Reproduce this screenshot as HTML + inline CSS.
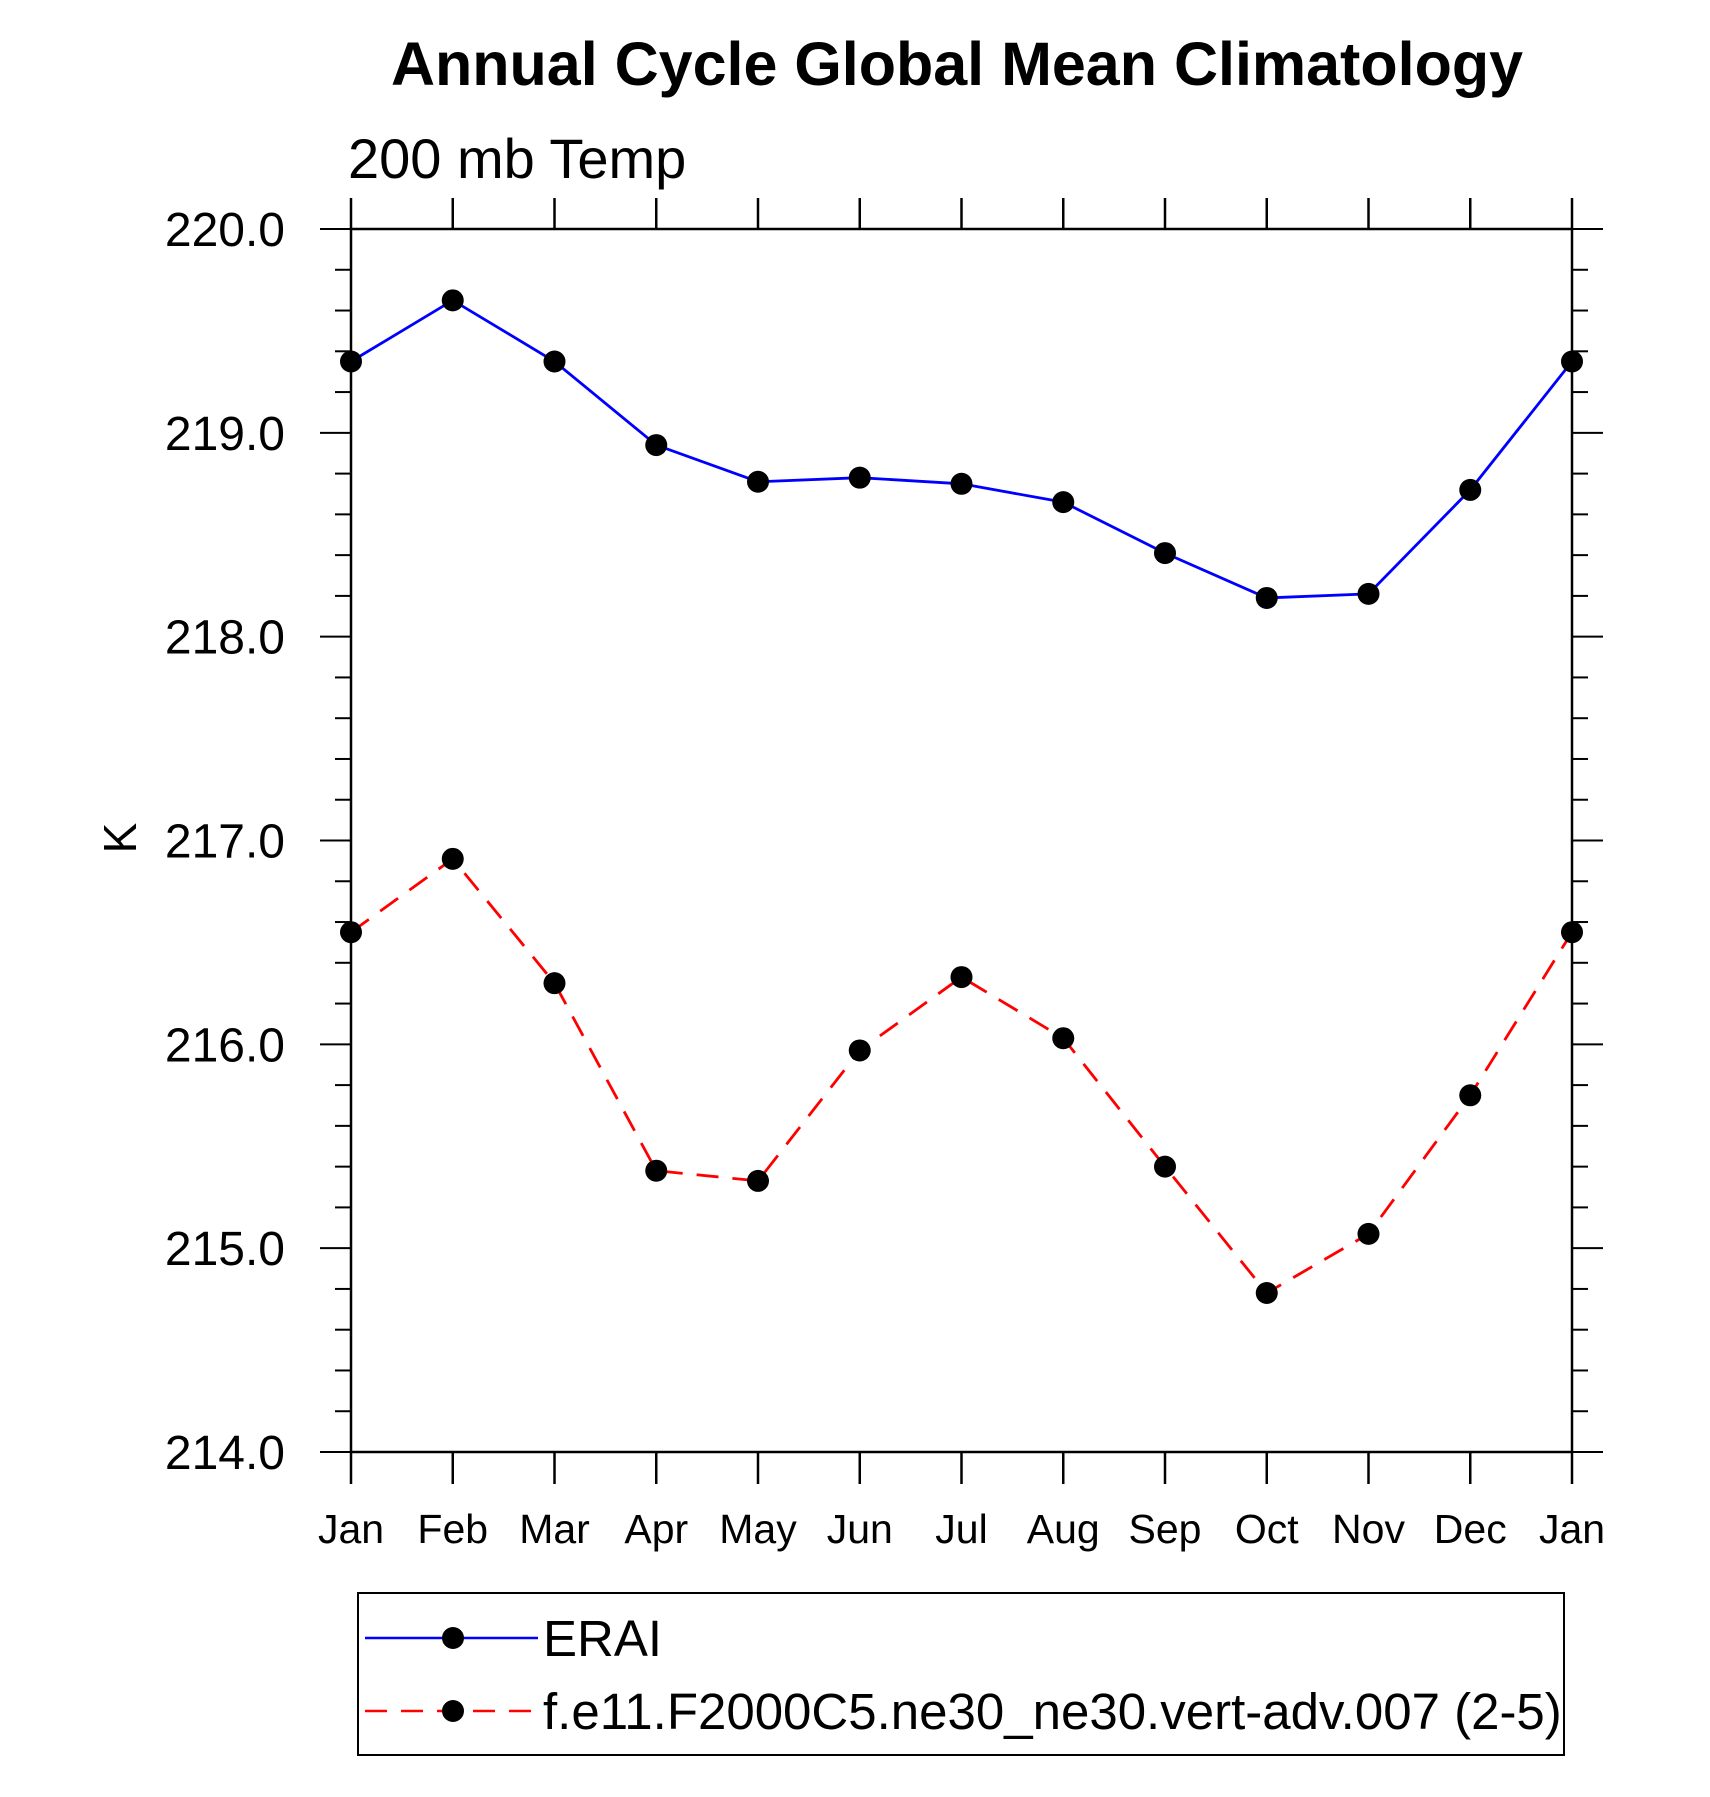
<!DOCTYPE html>
<html><head><meta charset="utf-8"><style>html,body{margin:0;padding:0;background:#fff}svg{display:block}text{font-family:"Liberation Sans",Arial,sans-serif}</style></head>
<body>
<svg id="chart" width="1710" height="1797" viewBox="0 0 1710 1797" xmlns="http://www.w3.org/2000/svg">
<text x="957" y="85" text-anchor="middle" font-size="61" font-weight="bold">Annual Cycle Global Mean Climatology</text>
<text x="348" y="178" font-size="56">200 mb Temp</text>
<text transform="translate(136,838) rotate(-90)" text-anchor="middle" font-size="46">K</text>
<g id="axes"></g>
<g id="series"></g>
<g>
<rect x="358" y="1593" width="1206" height="162" fill="none" stroke="#000" stroke-width="2"/>
<g>
<line x1="365" y1="1638" x2="538" y2="1638" stroke="#0000ff" stroke-width="2.5"/>
<circle cx="453" cy="1638" r="11"/>
<text x="543" y="1656" font-size="51">ERAI</text>
</g>
<g>
<line x1="365" y1="1711" x2="538" y2="1711" stroke="#ff0000" stroke-width="2.5" stroke-dasharray="22,14"/>
<circle cx="453" cy="1711" r="11"/>
<text x="543" y="1729" font-size="51">f.e11.F2000C5.ne30_ne30.vert-adv.007 (2-5)</text>
</g>
</g>
</svg>
<script>
const months = ["Jan","Feb","Mar","Apr","May","Jun","Jul","Aug","Sep","Oct","Nov","Dec","Jan"];
const eraiValues = [219.35,219.65,219.35,218.94,218.76,218.78,218.75,218.66,218.41,218.19,218.21,218.72,219.35];
const modelValues = [216.55,216.91,216.30,215.38,215.33,215.97,216.33,216.03,215.40,214.78,215.07,215.75,216.55];
const yTicks = [214,215,216,217,218,219,220];
const yTickLabels = ["214.0","215.0","216.0","217.0","218.0","219.0","220.0"];

const L=351,R=1572,T=229,B=1452,YMIN=214,YMAX=220;
const NS="http://www.w3.org/2000/svg";
function xs(i){return L+(R-L)*i/(months.length-1);}
function ys(v){return B-(B-T)*(v-YMIN)/(YMAX-YMIN);}
function mk(tag,attrs,parent){const e=document.createElementNS(NS,tag);for(const k in attrs)e.setAttribute(k,attrs[k]);parent.appendChild(e);return e;}
const axes=document.getElementById('axes');
const frame=mk('rect',{x:L,y:T,width:R-L,height:B-T,fill:'none',stroke:'#000','stroke-width':2.5},axes);


months.forEach((m,i)=>{
  const x=xs(i);
  const t1=mk('line',{x1:x,y1:B,x2:x,y2:B+32,stroke:'#000','stroke-width':2.5},axes);
  
  
  const t2=mk('line',{x1:x,y1:T,x2:x,y2:T-31,stroke:'#000','stroke-width':2.5},axes);
  
  
  const lb=mk('text',{x:x,y:1543,'text-anchor':'middle','font-size':41},axes);
  lb.textContent=m;
  
  
});
for(let v=YMIN;v<=YMAX+1e-9;v+=0.2){
  const y=ys(v);const major=Math.abs(v-Math.round(v))<1e-6;const len=major?31:16;
  const a=mk('line',{x1:L-len,y1:y,x2:L,y2:y,stroke:'#000','stroke-width':2},axes);
  
  
  const b=mk('line',{x1:R,y1:y,x2:R+len,y2:y,stroke:'#000','stroke-width':2},axes);
  
  
}
yTicks.forEach((v,i)=>{
  const t=mk('text',{x:285,y:ys(v)+17,'text-anchor':'end','font-size':48},axes);
  t.textContent=yTickLabels[i];
  
  
});
const series=document.getElementById('series');
function draw(vals,color,dash,name){
  const pts=vals.map((v,i)=>xs(i)+','+ys(v)).join(' ');
  const pl=mk('polyline',{points:pts,fill:'none',stroke:color,'stroke-width':2.8},series);
  if(dash)pl.setAttribute('stroke-dasharray',dash);
  
  
  vals.forEach((v,i)=>{
    const c=mk('circle',{cx:xs(i),cy:ys(v),r:11,fill:'#000'},series);
    
    
  });
}
draw(eraiValues,'#0000ff',null,'erai');
draw(modelValues,'#ff0000','22,14','model');
</script>
</body></html>
